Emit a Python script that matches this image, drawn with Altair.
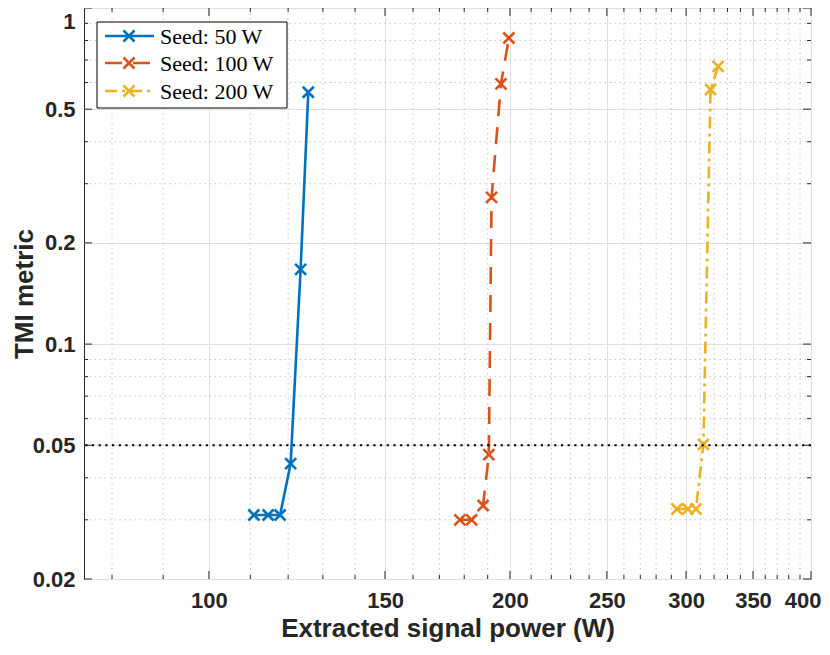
import altair as alt
import pandas as pd

series_names = ["Seed: 50 W", "Seed: 100 W", "Seed: 200 W"]
series_colors = ["#0072BD", "#D95319", "#EDB120"]
series_dashes = [[1, 0], [17, 11], [12, 5, 3, 5]]

p50_x = [110.9, 114.6, 117.8, 120.7, 123.5, 125.7]
p50_y = [0.0310, 0.0310, 0.0310, 0.0441, 0.1668, 0.5614]
p100_x = [178.2, 183.1, 188.0, 190.5, 191.7, 195.9, 199.5]
p100_y = [0.0300, 0.0300, 0.0331, 0.0469, 0.2733, 0.5946, 0.814]
p200_x = [293.8, 301.3, 306.9, 312.2, 317.4, 323.0]
p200_y = [0.0323, 0.0323, 0.0323, 0.0503, 0.572, 0.670]
threshold = [0.05]

x_ticks = [100, 150, 200, 250, 300, 350, 400]
x_minor = [80, 90, 110, 120, 130, 140, 160, 170, 180, 190, 210, 220, 230, 240,
           260, 270, 280, 290, 310, 320, 330, 340, 360, 370, 380, 390]
y_ticks = [0.02, 0.05, 0.1, 0.2, 0.5, 1]
y_minor = [0.03, 0.04, 0.06, 0.07, 0.08, 0.09, 0.3, 0.4, 0.6, 0.7, 0.8, 0.9]

W, H = 727, 571
FRAME = "#262626"

rows = []
for name, xs, ys in [(series_names[0], p50_x, p50_y),
                     (series_names[1], p100_x, p100_y),
                     (series_names[2], p200_x, p200_y)]:
    for i, (xv, yv) in enumerate(zip(xs, ys)):
        rows.append({"series": name, "x": xv, "y": yv, "order": i})
df = pd.DataFrame(rows)

xscale = alt.Scale(type="log", domain=[75, 400], nice=False)
yscale = alt.Scale(type="log", domain=[0.02, 1], nice=False)

x_axis = alt.Axis(values=x_ticks, format="d", grid=True, gridColor="#e0e0e0", gridWidth=1,
                  ticks=False, domain=False, labelFont="Liberation Sans", labelFontSize=22,
                  labelFontWeight="bold", labelColor=FRAME, labelPadding=11, labelFlush=True,
                  labelFlushOffset=10,
                  labelOverlap=False, titleFont="Liberation Sans", titleFontSize=26,
                  titleFontWeight="bold", titleColor=FRAME, titlePadding=4)
y_axis = alt.Axis(values=y_ticks, format="~g", grid=True, gridColor="#e0e0e0", gridWidth=1,
                  ticks=False, domain=False, labelFont="Liberation Sans", labelFontSize=22,
                  labelFontWeight="bold", labelColor=FRAME, labelPadding=9, labelFlush=False,
                  labelBaseline={"condition": {"test": "datum.value >= 0.99", "value": "top"},
                                 "value": "middle"},
                  labelOffset={"condition": {"test": "datum.value >= 0.99", "value": 3},
                               "value": 0},
                  labelOverlap=False, titleFont="Liberation Sans", titleFontSize=26,
                  titleFontWeight="bold", titleColor=FRAME, titlePadding=0,
                  titleBaseline="alphabetic")

X = alt.X("x:Q", scale=xscale, axis=x_axis, title="Extracted signal power (W)")
Y = alt.Y("y:Q", scale=yscale, axis=y_axis, title="TMI metric")

color = alt.Color("series:N", scale=alt.Scale(domain=series_names, range=series_colors), legend=None)
dash = alt.StrokeDash("series:N", scale=alt.Scale(domain=series_names, range=series_dashes), legend=None)

xminor_df = pd.DataFrame({"x": x_minor})
yminor_df = pd.DataFrame({"y": y_minor})
xmajor_df = pd.DataFrame({"x": x_ticks})
ymajor_df = pd.DataFrame({"y": y_ticks})

minor_style = dict(color="#b8b8b8", strokeDash=[1.5, 3.5], strokeWidth=0.8)
grid_x = alt.Chart(xminor_df).mark_rule(**minor_style).encode(x=X)
grid_y = alt.Chart(yminor_df).mark_rule(**minor_style).encode(y=Y)

tick_style = dict(color=FRAME, strokeWidth=1)
ticks = [
    alt.Chart(xmajor_df).mark_rule(**tick_style).encode(x=X, y=alt.value(H), y2=alt.value(H - 8)),
    alt.Chart(xmajor_df).mark_rule(**tick_style).encode(x=X, y=alt.value(0), y2=alt.value(8)),
    alt.Chart(xminor_df).mark_rule(**tick_style).encode(x=X, y=alt.value(H), y2=alt.value(H - 4)),
    alt.Chart(xminor_df).mark_rule(**tick_style).encode(x=X, y=alt.value(0), y2=alt.value(4)),
    alt.Chart(ymajor_df).mark_rule(**tick_style).encode(y=Y, x=alt.value(0), x2=alt.value(8)),
    alt.Chart(ymajor_df).mark_rule(**tick_style).encode(y=Y, x=alt.value(W), x2=alt.value(W - 8)),
    alt.Chart(yminor_df).mark_rule(**tick_style).encode(y=Y, x=alt.value(0), x2=alt.value(4)),
    alt.Chart(yminor_df).mark_rule(**tick_style).encode(y=Y, x=alt.value(W), x2=alt.value(W - 4)),
]

cross = "M-1,-1L1,1M-1,1L1,-1"

lines = alt.Chart(df).mark_line(strokeWidth=2.6).encode(
    x=X, y=Y, color=color, strokeDash=dash, order="order:Q")
points = alt.Chart(df).mark_point(shape=cross, size=121, strokeWidth=2.6, filled=False,
                                  opacity=1).encode(x=X, y=Y, color=color)

thr = alt.Chart(pd.DataFrame({"y": threshold})).mark_rule(
    color="black", strokeDash=[2.2, 4.5], strokeWidth=2.2).encode(y=Y)

# legend (layout element)
leg_box = alt.Chart(pd.DataFrame({"k": [0]})).mark_rect(
    fill="white", stroke="black", strokeWidth=1).encode(
    x=alt.value(13), x2=alt.value(203), y=alt.value(14), y2=alt.value(100))
legend_layers = [leg_box]
row_y = [28, 55, 83]
for name, col, dsh, ry in zip(series_names, series_colors, series_dashes, row_y):
    ldf = pd.DataFrame({"label": [name]})
    legend_layers.append(alt.Chart(ldf).mark_rule(color=col, strokeWidth=2.6, strokeDash=dsh).encode(
        x=alt.value(21), x2=alt.value(70), y=alt.value(ry)))
    legend_layers.append(alt.Chart(ldf).mark_point(shape=cross, size=121, strokeWidth=2.6,
                                                   filled=False, opacity=1, color=col).encode(
        x=alt.value(45), y=alt.value(ry)))
    legend_layers.append(alt.Chart(ldf).mark_text(font="Liberation Serif", fontSize=22, align="left",
                                                  baseline="middle", color="black").encode(
        x=alt.value(76), y=alt.value(ry + 1), text="label:N"))

chart = alt.layer(grid_x, grid_y, *ticks, lines, points, thr, *legend_layers).properties(
    width=W, height=H,
    autosize=alt.AutoSizeParams(type="none"),
    padding={"left": 76, "top": 0, "right": 11, "bottom": 64},
).configure_view(stroke=FRAME, strokeWidth=1)

chart.save("out.html", embed_options={"renderer": "svg", "actions": False})
